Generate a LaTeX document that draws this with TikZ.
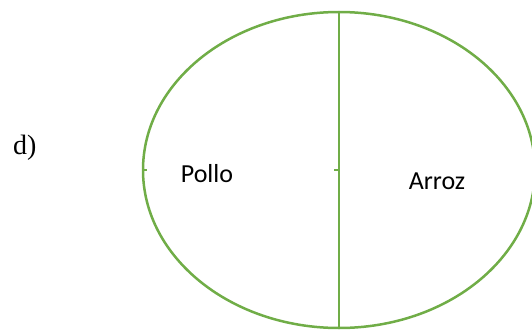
\documentclass[tikz,border=0pt]{standalone}
\usepackage{fontspec}
\setmainfont{Liberation Serif}
\newfontfamily\labelfont{Carlito}
\definecolor{officegreen}{HTML}{70AD47}
\begin{document}
\begin{tikzpicture}[x=1pt,y=-1pt,
  outline/.style={draw=officegreen,line width=2.5pt},
  lbl/.style={font=\labelfont\fontsize{26}{30}\selectfont,inner sep=0pt,anchor=base},
  tag/.style={font=\fontsize{28}{32}\selectfont,inner sep=0pt,anchor=base west}]
\useasboundingbox (0,0) rectangle (532,329);
\clip (0,0) rectangle (532,329);
\coordinate (c) at (339,170);
\coordinate (top) at (339,12);
\coordinate (bot) at (339,329);
\draw[outline] (c) ellipse [x radius=196, y radius=158];
\draw[outline] (top) -- (bot);
\draw[outline,line width=2pt] (142,170) -- (147,170);
\draw[outline,line width=2pt] (334,170) -- (339,170);
\node[tag] (d) at (13,154) {d)};
\node[lbl] (pollo) at (207,182) {Pollo};
\node[lbl] (arroz) at (437,189) {Arroz};
\end{tikzpicture}
\end{document}
